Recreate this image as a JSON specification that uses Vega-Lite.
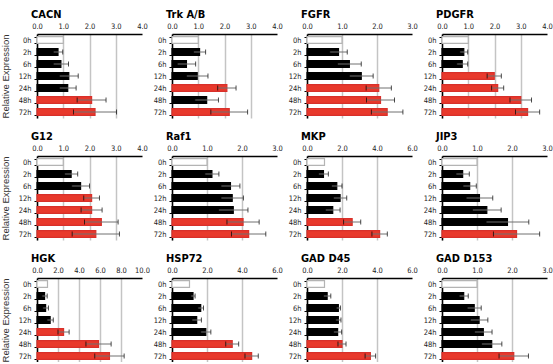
{
  "$schema": "https://vega.github.io/schema/vega-lite/v6.json",
  "padding": {"left": 0, "top": 9, "right": 0, "bottom": 0},
  "data": {"values": [
    {"gene":"CACN","time":"0h","value":1.0,"group":"ctrl"},
    {"gene":"CACN","time":"2h","value":0.80,"lo":0.62,"hi":0.98,"group":"ns"},
    {"gene":"CACN","time":"6h","value":0.91,"lo":0.62,"hi":1.20,"group":"ns"},
    {"gene":"CACN","time":"12h","value":1.21,"lo":0.85,"hi":1.57,"group":"ns"},
    {"gene":"CACN","time":"24h","value":1.17,"lo":0.85,"hi":1.49,"group":"ns"},
    {"gene":"CACN","time":"48h","value":2.08,"lo":1.53,"hi":2.63,"group":"up"},
    {"gene":"CACN","time":"72h","value":2.21,"lo":1.39,"hi":3.03,"group":"up"},
    {"gene":"Trk A/B","time":"0h","value":1.0,"group":"ctrl"},
    {"gene":"Trk A/B","time":"2h","value":1.05,"lo":0.82,"hi":1.28,"group":"ns"},
    {"gene":"Trk A/B","time":"6h","value":0.55,"lo":0.20,"hi":0.90,"group":"ns"},
    {"gene":"Trk A/B","time":"12h","value":0.96,"lo":0.55,"hi":1.37,"group":"ns"},
    {"gene":"Trk A/B","time":"24h","value":2.09,"lo":1.74,"hi":2.44,"group":"up"},
    {"gene":"Trk A/B","time":"48h","value":1.32,"lo":0.87,"hi":1.77,"group":"ns"},
    {"gene":"Trk A/B","time":"72h","value":2.18,"lo":1.48,"hi":2.88,"group":"up"},
    {"gene":"FGFR","time":"0h","value":1.0,"group":"ctrl"},
    {"gene":"FGFR","time":"2h","value":0.90,"lo":0.65,"hi":1.15,"group":"ns"},
    {"gene":"FGFR","time":"6h","value":1.21,"lo":0.87,"hi":1.55,"group":"ns"},
    {"gene":"FGFR","time":"12h","value":1.55,"lo":1.21,"hi":1.89,"group":"ns"},
    {"gene":"FGFR","time":"24h","value":2.05,"lo":1.69,"hi":2.41,"group":"up"},
    {"gene":"FGFR","time":"48h","value":2.10,"lo":1.70,"hi":2.50,"group":"up"},
    {"gene":"FGFR","time":"72h","value":2.29,"lo":1.84,"hi":2.74,"group":"up"},
    {"gene":"PDGFR","time":"0h","value":1.0,"group":"ctrl"},
    {"gene":"PDGFR","time":"2h","value":0.83,"lo":0.68,"hi":0.98,"group":"ns"},
    {"gene":"PDGFR","time":"6h","value":0.77,"lo":0.56,"hi":0.98,"group":"ns"},
    {"gene":"PDGFR","time":"12h","value":1.99,"lo":1.72,"hi":2.26,"group":"up"},
    {"gene":"PDGFR","time":"24h","value":2.12,"lo":1.89,"hi":2.35,"group":"up"},
    {"gene":"PDGFR","time":"48h","value":3.00,"lo":2.59,"hi":3.41,"group":"up"},
    {"gene":"PDGFR","time":"72h","value":3.26,"lo":2.80,"hi":3.72,"group":"up"},
    {"gene":"G12","time":"0h","value":1.0,"group":"ctrl"},
    {"gene":"G12","time":"2h","value":1.30,"lo":1.05,"hi":1.55,"group":"ns"},
    {"gene":"G12","time":"6h","value":1.66,"lo":1.32,"hi":2.00,"group":"ns"},
    {"gene":"G12","time":"12h","value":2.08,"lo":1.78,"hi":2.38,"group":"up"},
    {"gene":"G12","time":"24h","value":2.08,"lo":1.68,"hi":2.48,"group":"up"},
    {"gene":"G12","time":"48h","value":2.45,"lo":1.81,"hi":3.09,"group":"up"},
    {"gene":"G12","time":"72h","value":2.24,"lo":1.34,"hi":3.14,"group":"up"},
    {"gene":"Raf1","time":"0h","value":1.0,"group":"ctrl"},
    {"gene":"Raf1","time":"2h","value":1.14,"lo":0.94,"hi":1.34,"group":"ns"},
    {"gene":"Raf1","time":"6h","value":1.67,"lo":1.40,"hi":1.94,"group":"ns"},
    {"gene":"Raf1","time":"12h","value":1.72,"lo":1.40,"hi":2.04,"group":"ns"},
    {"gene":"Raf1","time":"24h","value":1.75,"lo":1.33,"hi":2.17,"group":"ns"},
    {"gene":"Raf1","time":"48h","value":2.03,"lo":1.57,"hi":2.49,"group":"up"},
    {"gene":"Raf1","time":"72h","value":2.19,"lo":1.70,"hi":2.68,"group":"up"},
    {"gene":"MKP","time":"0h","value":1.0,"group":"ctrl"},
    {"gene":"MKP","time":"2h","value":0.94,"lo":0.66,"hi":1.22,"group":"ns"},
    {"gene":"MKP","time":"6h","value":1.70,"lo":1.40,"hi":2.00,"group":"ns"},
    {"gene":"MKP","time":"12h","value":1.89,"lo":1.51,"hi":2.27,"group":"ns"},
    {"gene":"MKP","time":"24h","value":1.47,"lo":1.05,"hi":1.89,"group":"ns"},
    {"gene":"MKP","time":"48h","value":2.58,"lo":2.09,"hi":3.07,"group":"up"},
    {"gene":"MKP","time":"72h","value":4.15,"lo":3.71,"hi":4.59,"group":"up"},
    {"gene":"JIP3","time":"0h","value":1.0,"group":"ctrl"},
    {"gene":"JIP3","time":"2h","value":0.59,"lo":0.40,"hi":0.78,"group":"ns"},
    {"gene":"JIP3","time":"6h","value":0.79,"lo":0.60,"hi":0.98,"group":"ns"},
    {"gene":"JIP3","time":"12h","value":1.07,"lo":0.69,"hi":1.45,"group":"ns"},
    {"gene":"JIP3","time":"24h","value":1.28,"lo":0.87,"hi":1.69,"group":"ns"},
    {"gene":"JIP3","time":"48h","value":1.87,"lo":1.26,"hi":2.48,"group":"ns"},
    {"gene":"JIP3","time":"72h","value":2.13,"lo":1.47,"hi":2.79,"group":"up"},
    {"gene":"HGK","time":"0h","value":1.0,"group":"ctrl"},
    {"gene":"HGK","time":"2h","value":0.72,"lo":0.47,"hi":0.97,"group":"ns"},
    {"gene":"HGK","time":"6h","value":0.82,"lo":0.55,"hi":1.09,"group":"ns"},
    {"gene":"HGK","time":"12h","value":1.25,"lo":0.95,"hi":1.55,"group":"ns"},
    {"gene":"HGK","time":"24h","value":2.53,"lo":2.00,"hi":3.06,"group":"up"},
    {"gene":"HGK","time":"48h","value":5.86,"lo":4.66,"hi":7.06,"group":"up"},
    {"gene":"HGK","time":"72h","value":6.90,"lo":5.50,"hi":8.30,"group":"up"},
    {"gene":"HSP72","time":"0h","value":1.0,"group":"ctrl"},
    {"gene":"HSP72","time":"2h","value":1.20,"lo":1.08,"hi":1.32,"group":"ns"},
    {"gene":"HSP72","time":"6h","value":1.64,"lo":1.48,"hi":1.80,"group":"ns"},
    {"gene":"HSP72","time":"12h","value":1.41,"lo":1.14,"hi":1.68,"group":"ns"},
    {"gene":"HSP72","time":"24h","value":1.93,"lo":1.64,"hi":2.22,"group":"ns"},
    {"gene":"HSP72","time":"48h","value":3.44,"lo":3.07,"hi":3.81,"group":"up"},
    {"gene":"HSP72","time":"72h","value":4.55,"lo":4.17,"hi":4.93,"group":"up"},
    {"gene":"GAD D45","time":"0h","value":1.0,"group":"ctrl"},
    {"gene":"GAD D45","time":"2h","value":1.15,"lo":0.94,"hi":1.36,"group":"ns"},
    {"gene":"GAD D45","time":"6h","value":1.79,"lo":1.67,"hi":1.91,"group":"ns"},
    {"gene":"GAD D45","time":"12h","value":1.79,"lo":1.64,"hi":1.94,"group":"ns"},
    {"gene":"GAD D45","time":"24h","value":1.75,"lo":1.52,"hi":1.98,"group":"ns"},
    {"gene":"GAD D45","time":"48h","value":2.00,"lo":1.77,"hi":2.23,"group":"up"},
    {"gene":"GAD D45","time":"72h","value":3.62,"lo":3.32,"hi":3.92,"group":"up"},
    {"gene":"GAD D153","time":"0h","value":1.0,"group":"ctrl"},
    {"gene":"GAD D153","time":"2h","value":0.62,"lo":0.49,"hi":0.75,"group":"ns"},
    {"gene":"GAD D153","time":"6h","value":0.92,"lo":0.72,"hi":1.12,"group":"ns"},
    {"gene":"GAD D153","time":"12h","value":1.06,"lo":0.81,"hi":1.31,"group":"ns"},
    {"gene":"GAD D153","time":"24h","value":1.18,"lo":0.93,"hi":1.43,"group":"ns"},
    {"gene":"GAD D153","time":"48h","value":1.42,"lo":1.13,"hi":1.71,"group":"ns"},
    {"gene":"GAD D153","time":"72h","value":2.05,"lo":1.63,"hi":2.47,"group":"up"}
  ]},
  "columns": 4,
  "spacing": {"row": 38, "column": 30},
  "bounds": "flush",
  "resolve": {"scale": {"x": "independent", "y": "independent"}},
  "concat": [
    {"title": "CACN", "width": 105, "height": 84,
     "transform": [{"filter": "datum.gene == 'CACN'"}],
     "encoding": {"y": {"field": "time", "type": "ordinal", "sort": ["0h","2h","6h","12h","24h","48h","72h"], "scale": {"paddingInner": 0.45, "paddingOuter": 0.225}, "axis": {"title": "Relative Expression"}}},
     "layer": [
       {"mark": {"type": "bar", "strokeWidth": 1.2}, "encoding": {"x": {"field": "value", "type": "quantitative", "scale": {"domain": [0, 4]}, "axis": {"orient": "top", "title": null, "format": ".1f", "values": [0,1,2,3,4], "gridOpacity": {"condition": {"test": "datum.value >= 4", "value": 0}, "value": 1}}}, "color": {"field": "group", "type": "nominal", "scale": {"domain": ["ctrl","ns","up"], "range": ["#ffffff","#000000","#e8392c"]}, "legend": null}, "stroke": {"field": "group", "type": "nominal", "scale": {"domain": ["ctrl","ns","up"], "range": ["#b4b4b4","#000000","#d8302a"]}, "legend": null}}},
       {"transform": [{"filter": "isValid(datum.hi)"}], "mark": {"type": "rule", "color": "#707070", "strokeWidth": 1}, "encoding": {"x": {"field": "lo", "type": "quantitative", "axis": {"orient": "top", "title": null, "format": ".1f", "values": [0,1,2,3,4], "gridOpacity": {"condition": {"test": "datum.value >= 4", "value": 0}, "value": 1}}}, "x2": {"field": "hi"}}},
       {"transform": [{"filter": "isValid(datum.hi)"}], "mark": {"type": "tick", "color": "#000", "size": 5, "thickness": 1}, "encoding": {"x": {"field": "lo", "type": "quantitative", "axis": {"orient": "top", "title": null, "format": ".1f", "values": [0,1,2,3,4], "gridOpacity": {"condition": {"test": "datum.value >= 4", "value": 0}, "value": 1}}}}},
       {"transform": [{"filter": "isValid(datum.hi)"}], "mark": {"type": "tick", "color": "#000", "size": 5, "thickness": 1}, "encoding": {"x": {"field": "hi", "type": "quantitative", "axis": {"orient": "top", "title": null, "format": ".1f", "values": [0,1,2,3,4], "gridOpacity": {"condition": {"test": "datum.value >= 4", "value": 0}, "value": 1}}}}}
     ]},
    {"title": "Trk A/B", "width": 105, "height": 84,
     "transform": [{"filter": "datum.gene == 'Trk A/B'"}],
     "encoding": {"y": {"field": "time", "type": "ordinal", "sort": ["0h","2h","6h","12h","24h","48h","72h"], "scale": {"paddingInner": 0.45, "paddingOuter": 0.225}, "axis": {"title": null}}},
     "layer": [
       {"mark": {"type": "bar", "strokeWidth": 1.2}, "encoding": {"x": {"field": "value", "type": "quantitative", "scale": {"domain": [0, 4]}, "axis": {"orient": "top", "title": null, "format": ".1f", "values": [0,1,2,3,4], "gridOpacity": {"condition": {"test": "datum.value >= 4", "value": 0}, "value": 1}}}, "color": {"field": "group", "type": "nominal", "scale": {"domain": ["ctrl","ns","up"], "range": ["#ffffff","#000000","#e8392c"]}, "legend": null}, "stroke": {"field": "group", "type": "nominal", "scale": {"domain": ["ctrl","ns","up"], "range": ["#b4b4b4","#000000","#d8302a"]}, "legend": null}}},
       {"transform": [{"filter": "isValid(datum.hi)"}], "mark": {"type": "rule", "color": "#707070", "strokeWidth": 1}, "encoding": {"x": {"field": "lo", "type": "quantitative", "axis": {"orient": "top", "title": null, "format": ".1f", "values": [0,1,2,3,4], "gridOpacity": {"condition": {"test": "datum.value >= 4", "value": 0}, "value": 1}}}, "x2": {"field": "hi"}}},
       {"transform": [{"filter": "isValid(datum.hi)"}], "mark": {"type": "tick", "color": "#000", "size": 5, "thickness": 1}, "encoding": {"x": {"field": "lo", "type": "quantitative", "axis": {"orient": "top", "title": null, "format": ".1f", "values": [0,1,2,3,4], "gridOpacity": {"condition": {"test": "datum.value >= 4", "value": 0}, "value": 1}}}}},
       {"transform": [{"filter": "isValid(datum.hi)"}], "mark": {"type": "tick", "color": "#000", "size": 5, "thickness": 1}, "encoding": {"x": {"field": "hi", "type": "quantitative", "axis": {"orient": "top", "title": null, "format": ".1f", "values": [0,1,2,3,4], "gridOpacity": {"condition": {"test": "datum.value >= 4", "value": 0}, "value": 1}}}}}
     ]},
    {"title": "FGFR", "width": 105, "height": 84,
     "transform": [{"filter": "datum.gene == 'FGFR'"}],
     "encoding": {"y": {"field": "time", "type": "ordinal", "sort": ["0h","2h","6h","12h","24h","48h","72h"], "scale": {"paddingInner": 0.45, "paddingOuter": 0.225}, "axis": {"title": null}}},
     "layer": [
       {"mark": {"type": "bar", "strokeWidth": 1.2}, "encoding": {"x": {"field": "value", "type": "quantitative", "scale": {"domain": [0, 3]}, "axis": {"orient": "top", "title": null, "format": ".1f", "values": [0,1,2,3], "gridOpacity": {"condition": {"test": "datum.value >= 3", "value": 0}, "value": 1}}}, "color": {"field": "group", "type": "nominal", "scale": {"domain": ["ctrl","ns","up"], "range": ["#ffffff","#000000","#e8392c"]}, "legend": null}, "stroke": {"field": "group", "type": "nominal", "scale": {"domain": ["ctrl","ns","up"], "range": ["#b4b4b4","#000000","#d8302a"]}, "legend": null}}},
       {"transform": [{"filter": "isValid(datum.hi)"}], "mark": {"type": "rule", "color": "#707070", "strokeWidth": 1}, "encoding": {"x": {"field": "lo", "type": "quantitative", "axis": {"orient": "top", "title": null, "format": ".1f", "values": [0,1,2,3], "gridOpacity": {"condition": {"test": "datum.value >= 3", "value": 0}, "value": 1}}}, "x2": {"field": "hi"}}},
       {"transform": [{"filter": "isValid(datum.hi)"}], "mark": {"type": "tick", "color": "#000", "size": 5, "thickness": 1}, "encoding": {"x": {"field": "lo", "type": "quantitative", "axis": {"orient": "top", "title": null, "format": ".1f", "values": [0,1,2,3], "gridOpacity": {"condition": {"test": "datum.value >= 3", "value": 0}, "value": 1}}}}},
       {"transform": [{"filter": "isValid(datum.hi)"}], "mark": {"type": "tick", "color": "#000", "size": 5, "thickness": 1}, "encoding": {"x": {"field": "hi", "type": "quantitative", "axis": {"orient": "top", "title": null, "format": ".1f", "values": [0,1,2,3], "gridOpacity": {"condition": {"test": "datum.value >= 3", "value": 0}, "value": 1}}}}}
     ]},
    {"title": "PDGFR", "width": 105, "height": 84,
     "transform": [{"filter": "datum.gene == 'PDGFR'"}],
     "encoding": {"y": {"field": "time", "type": "ordinal", "sort": ["0h","2h","6h","12h","24h","48h","72h"], "scale": {"paddingInner": 0.45, "paddingOuter": 0.225}, "axis": {"title": null}}},
     "layer": [
       {"mark": {"type": "bar", "strokeWidth": 1.2}, "encoding": {"x": {"field": "value", "type": "quantitative", "scale": {"domain": [0, 4]}, "axis": {"orient": "top", "title": null, "format": ".1f", "values": [0,1,2,3,4], "gridOpacity": {"condition": {"test": "datum.value >= 4", "value": 0}, "value": 1}}}, "color": {"field": "group", "type": "nominal", "scale": {"domain": ["ctrl","ns","up"], "range": ["#ffffff","#000000","#e8392c"]}, "legend": null}, "stroke": {"field": "group", "type": "nominal", "scale": {"domain": ["ctrl","ns","up"], "range": ["#b4b4b4","#000000","#d8302a"]}, "legend": null}}},
       {"transform": [{"filter": "isValid(datum.hi)"}], "mark": {"type": "rule", "color": "#707070", "strokeWidth": 1}, "encoding": {"x": {"field": "lo", "type": "quantitative", "axis": {"orient": "top", "title": null, "format": ".1f", "values": [0,1,2,3,4], "gridOpacity": {"condition": {"test": "datum.value >= 4", "value": 0}, "value": 1}}}, "x2": {"field": "hi"}}},
       {"transform": [{"filter": "isValid(datum.hi)"}], "mark": {"type": "tick", "color": "#000", "size": 5, "thickness": 1}, "encoding": {"x": {"field": "lo", "type": "quantitative", "axis": {"orient": "top", "title": null, "format": ".1f", "values": [0,1,2,3,4], "gridOpacity": {"condition": {"test": "datum.value >= 4", "value": 0}, "value": 1}}}}},
       {"transform": [{"filter": "isValid(datum.hi)"}], "mark": {"type": "tick", "color": "#000", "size": 5, "thickness": 1}, "encoding": {"x": {"field": "hi", "type": "quantitative", "axis": {"orient": "top", "title": null, "format": ".1f", "values": [0,1,2,3,4], "gridOpacity": {"condition": {"test": "datum.value >= 4", "value": 0}, "value": 1}}}}}
     ]},
    {"title": "G12", "width": 105, "height": 84,
     "transform": [{"filter": "datum.gene == 'G12'"}],
     "encoding": {"y": {"field": "time", "type": "ordinal", "sort": ["0h","2h","6h","12h","24h","48h","72h"], "scale": {"paddingInner": 0.45, "paddingOuter": 0.225}, "axis": {"title": "Relative Expression"}}},
     "layer": [
       {"mark": {"type": "bar", "strokeWidth": 1.2}, "encoding": {"x": {"field": "value", "type": "quantitative", "scale": {"domain": [0, 4]}, "axis": {"orient": "top", "title": null, "format": ".1f", "values": [0,1,2,3,4], "gridOpacity": {"condition": {"test": "datum.value >= 4", "value": 0}, "value": 1}}}, "color": {"field": "group", "type": "nominal", "scale": {"domain": ["ctrl","ns","up"], "range": ["#ffffff","#000000","#e8392c"]}, "legend": null}, "stroke": {"field": "group", "type": "nominal", "scale": {"domain": ["ctrl","ns","up"], "range": ["#b4b4b4","#000000","#d8302a"]}, "legend": null}}},
       {"transform": [{"filter": "isValid(datum.hi)"}], "mark": {"type": "rule", "color": "#707070", "strokeWidth": 1}, "encoding": {"x": {"field": "lo", "type": "quantitative", "axis": {"orient": "top", "title": null, "format": ".1f", "values": [0,1,2,3,4], "gridOpacity": {"condition": {"test": "datum.value >= 4", "value": 0}, "value": 1}}}, "x2": {"field": "hi"}}},
       {"transform": [{"filter": "isValid(datum.hi)"}], "mark": {"type": "tick", "color": "#000", "size": 5, "thickness": 1}, "encoding": {"x": {"field": "lo", "type": "quantitative", "axis": {"orient": "top", "title": null, "format": ".1f", "values": [0,1,2,3,4], "gridOpacity": {"condition": {"test": "datum.value >= 4", "value": 0}, "value": 1}}}}},
       {"transform": [{"filter": "isValid(datum.hi)"}], "mark": {"type": "tick", "color": "#000", "size": 5, "thickness": 1}, "encoding": {"x": {"field": "hi", "type": "quantitative", "axis": {"orient": "top", "title": null, "format": ".1f", "values": [0,1,2,3,4], "gridOpacity": {"condition": {"test": "datum.value >= 4", "value": 0}, "value": 1}}}}}
     ]},
    {"title": "Raf1", "width": 105, "height": 84,
     "transform": [{"filter": "datum.gene == 'Raf1'"}],
     "encoding": {"y": {"field": "time", "type": "ordinal", "sort": ["0h","2h","6h","12h","24h","48h","72h"], "scale": {"paddingInner": 0.45, "paddingOuter": 0.225}, "axis": {"title": null}}},
     "layer": [
       {"mark": {"type": "bar", "strokeWidth": 1.2}, "encoding": {"x": {"field": "value", "type": "quantitative", "scale": {"domain": [0, 3]}, "axis": {"orient": "top", "title": null, "format": ".1f", "values": [0,1,2,3], "gridOpacity": {"condition": {"test": "datum.value >= 3", "value": 0}, "value": 1}}}, "color": {"field": "group", "type": "nominal", "scale": {"domain": ["ctrl","ns","up"], "range": ["#ffffff","#000000","#e8392c"]}, "legend": null}, "stroke": {"field": "group", "type": "nominal", "scale": {"domain": ["ctrl","ns","up"], "range": ["#b4b4b4","#000000","#d8302a"]}, "legend": null}}},
       {"transform": [{"filter": "isValid(datum.hi)"}], "mark": {"type": "rule", "color": "#707070", "strokeWidth": 1}, "encoding": {"x": {"field": "lo", "type": "quantitative", "axis": {"orient": "top", "title": null, "format": ".1f", "values": [0,1,2,3], "gridOpacity": {"condition": {"test": "datum.value >= 3", "value": 0}, "value": 1}}}, "x2": {"field": "hi"}}},
       {"transform": [{"filter": "isValid(datum.hi)"}], "mark": {"type": "tick", "color": "#000", "size": 5, "thickness": 1}, "encoding": {"x": {"field": "lo", "type": "quantitative", "axis": {"orient": "top", "title": null, "format": ".1f", "values": [0,1,2,3], "gridOpacity": {"condition": {"test": "datum.value >= 3", "value": 0}, "value": 1}}}}},
       {"transform": [{"filter": "isValid(datum.hi)"}], "mark": {"type": "tick", "color": "#000", "size": 5, "thickness": 1}, "encoding": {"x": {"field": "hi", "type": "quantitative", "axis": {"orient": "top", "title": null, "format": ".1f", "values": [0,1,2,3], "gridOpacity": {"condition": {"test": "datum.value >= 3", "value": 0}, "value": 1}}}}}
     ]},
    {"title": "MKP", "width": 105, "height": 84,
     "transform": [{"filter": "datum.gene == 'MKP'"}],
     "encoding": {"y": {"field": "time", "type": "ordinal", "sort": ["0h","2h","6h","12h","24h","48h","72h"], "scale": {"paddingInner": 0.45, "paddingOuter": 0.225}, "axis": {"title": null}}},
     "layer": [
       {"mark": {"type": "bar", "strokeWidth": 1.2}, "encoding": {"x": {"field": "value", "type": "quantitative", "scale": {"domain": [0, 6]}, "axis": {"orient": "top", "title": null, "format": ".1f", "values": [0,2,4,6], "gridOpacity": {"condition": {"test": "datum.value >= 6", "value": 0}, "value": 1}}}, "color": {"field": "group", "type": "nominal", "scale": {"domain": ["ctrl","ns","up"], "range": ["#ffffff","#000000","#e8392c"]}, "legend": null}, "stroke": {"field": "group", "type": "nominal", "scale": {"domain": ["ctrl","ns","up"], "range": ["#b4b4b4","#000000","#d8302a"]}, "legend": null}}},
       {"transform": [{"filter": "isValid(datum.hi)"}], "mark": {"type": "rule", "color": "#707070", "strokeWidth": 1}, "encoding": {"x": {"field": "lo", "type": "quantitative", "axis": {"orient": "top", "title": null, "format": ".1f", "values": [0,2,4,6], "gridOpacity": {"condition": {"test": "datum.value >= 6", "value": 0}, "value": 1}}}, "x2": {"field": "hi"}}},
       {"transform": [{"filter": "isValid(datum.hi)"}], "mark": {"type": "tick", "color": "#000", "size": 5, "thickness": 1}, "encoding": {"x": {"field": "lo", "type": "quantitative", "axis": {"orient": "top", "title": null, "format": ".1f", "values": [0,2,4,6], "gridOpacity": {"condition": {"test": "datum.value >= 6", "value": 0}, "value": 1}}}}},
       {"transform": [{"filter": "isValid(datum.hi)"}], "mark": {"type": "tick", "color": "#000", "size": 5, "thickness": 1}, "encoding": {"x": {"field": "hi", "type": "quantitative", "axis": {"orient": "top", "title": null, "format": ".1f", "values": [0,2,4,6], "gridOpacity": {"condition": {"test": "datum.value >= 6", "value": 0}, "value": 1}}}}}
     ]},
    {"title": "JIP3", "width": 105, "height": 84,
     "transform": [{"filter": "datum.gene == 'JIP3'"}],
     "encoding": {"y": {"field": "time", "type": "ordinal", "sort": ["0h","2h","6h","12h","24h","48h","72h"], "scale": {"paddingInner": 0.45, "paddingOuter": 0.225}, "axis": {"title": null}}},
     "layer": [
       {"mark": {"type": "bar", "strokeWidth": 1.2}, "encoding": {"x": {"field": "value", "type": "quantitative", "scale": {"domain": [0, 3]}, "axis": {"orient": "top", "title": null, "format": ".1f", "values": [0,1,2,3], "gridOpacity": {"condition": {"test": "datum.value >= 3", "value": 0}, "value": 1}}}, "color": {"field": "group", "type": "nominal", "scale": {"domain": ["ctrl","ns","up"], "range": ["#ffffff","#000000","#e8392c"]}, "legend": null}, "stroke": {"field": "group", "type": "nominal", "scale": {"domain": ["ctrl","ns","up"], "range": ["#b4b4b4","#000000","#d8302a"]}, "legend": null}}},
       {"transform": [{"filter": "isValid(datum.hi)"}], "mark": {"type": "rule", "color": "#707070", "strokeWidth": 1}, "encoding": {"x": {"field": "lo", "type": "quantitative", "axis": {"orient": "top", "title": null, "format": ".1f", "values": [0,1,2,3], "gridOpacity": {"condition": {"test": "datum.value >= 3", "value": 0}, "value": 1}}}, "x2": {"field": "hi"}}},
       {"transform": [{"filter": "isValid(datum.hi)"}], "mark": {"type": "tick", "color": "#000", "size": 5, "thickness": 1}, "encoding": {"x": {"field": "lo", "type": "quantitative", "axis": {"orient": "top", "title": null, "format": ".1f", "values": [0,1,2,3], "gridOpacity": {"condition": {"test": "datum.value >= 3", "value": 0}, "value": 1}}}}},
       {"transform": [{"filter": "isValid(datum.hi)"}], "mark": {"type": "tick", "color": "#000", "size": 5, "thickness": 1}, "encoding": {"x": {"field": "hi", "type": "quantitative", "axis": {"orient": "top", "title": null, "format": ".1f", "values": [0,1,2,3], "gridOpacity": {"condition": {"test": "datum.value >= 3", "value": 0}, "value": 1}}}}}
     ]},
    {"title": "HGK", "width": 105, "height": 84,
     "transform": [{"filter": "datum.gene == 'HGK'"}],
     "encoding": {"y": {"field": "time", "type": "ordinal", "sort": ["0h","2h","6h","12h","24h","48h","72h"], "scale": {"paddingInner": 0.45, "paddingOuter": 0.225}, "axis": {"title": "Relative Expression"}}},
     "layer": [
       {"mark": {"type": "bar", "strokeWidth": 1.2}, "encoding": {"x": {"field": "value", "type": "quantitative", "scale": {"domain": [0, 10]}, "axis": {"orient": "top", "title": null, "format": ".1f", "values": [0,2,4,6,8,10], "gridOpacity": {"condition": {"test": "datum.value >= 10", "value": 0}, "value": 1}}}, "color": {"field": "group", "type": "nominal", "scale": {"domain": ["ctrl","ns","up"], "range": ["#ffffff","#000000","#e8392c"]}, "legend": null}, "stroke": {"field": "group", "type": "nominal", "scale": {"domain": ["ctrl","ns","up"], "range": ["#b4b4b4","#000000","#d8302a"]}, "legend": null}}},
       {"transform": [{"filter": "isValid(datum.hi)"}], "mark": {"type": "rule", "color": "#707070", "strokeWidth": 1}, "encoding": {"x": {"field": "lo", "type": "quantitative", "axis": {"orient": "top", "title": null, "format": ".1f", "values": [0,2,4,6,8,10], "gridOpacity": {"condition": {"test": "datum.value >= 10", "value": 0}, "value": 1}}}, "x2": {"field": "hi"}}},
       {"transform": [{"filter": "isValid(datum.hi)"}], "mark": {"type": "tick", "color": "#000", "size": 5, "thickness": 1}, "encoding": {"x": {"field": "lo", "type": "quantitative", "axis": {"orient": "top", "title": null, "format": ".1f", "values": [0,2,4,6,8,10], "gridOpacity": {"condition": {"test": "datum.value >= 10", "value": 0}, "value": 1}}}}},
       {"transform": [{"filter": "isValid(datum.hi)"}], "mark": {"type": "tick", "color": "#000", "size": 5, "thickness": 1}, "encoding": {"x": {"field": "hi", "type": "quantitative", "axis": {"orient": "top", "title": null, "format": ".1f", "values": [0,2,4,6,8,10], "gridOpacity": {"condition": {"test": "datum.value >= 10", "value": 0}, "value": 1}}}}}
     ]},
    {"title": "HSP72", "width": 105, "height": 84,
     "transform": [{"filter": "datum.gene == 'HSP72'"}],
     "encoding": {"y": {"field": "time", "type": "ordinal", "sort": ["0h","2h","6h","12h","24h","48h","72h"], "scale": {"paddingInner": 0.45, "paddingOuter": 0.225}, "axis": {"title": null}}},
     "layer": [
       {"mark": {"type": "bar", "strokeWidth": 1.2}, "encoding": {"x": {"field": "value", "type": "quantitative", "scale": {"domain": [0, 6]}, "axis": {"orient": "top", "title": null, "format": ".1f", "values": [0,2,4,6], "gridOpacity": {"condition": {"test": "datum.value >= 6", "value": 0}, "value": 1}}}, "color": {"field": "group", "type": "nominal", "scale": {"domain": ["ctrl","ns","up"], "range": ["#ffffff","#000000","#e8392c"]}, "legend": null}, "stroke": {"field": "group", "type": "nominal", "scale": {"domain": ["ctrl","ns","up"], "range": ["#b4b4b4","#000000","#d8302a"]}, "legend": null}}},
       {"transform": [{"filter": "isValid(datum.hi)"}], "mark": {"type": "rule", "color": "#707070", "strokeWidth": 1}, "encoding": {"x": {"field": "lo", "type": "quantitative", "axis": {"orient": "top", "title": null, "format": ".1f", "values": [0,2,4,6], "gridOpacity": {"condition": {"test": "datum.value >= 6", "value": 0}, "value": 1}}}, "x2": {"field": "hi"}}},
       {"transform": [{"filter": "isValid(datum.hi)"}], "mark": {"type": "tick", "color": "#000", "size": 5, "thickness": 1}, "encoding": {"x": {"field": "lo", "type": "quantitative", "axis": {"orient": "top", "title": null, "format": ".1f", "values": [0,2,4,6], "gridOpacity": {"condition": {"test": "datum.value >= 6", "value": 0}, "value": 1}}}}},
       {"transform": [{"filter": "isValid(datum.hi)"}], "mark": {"type": "tick", "color": "#000", "size": 5, "thickness": 1}, "encoding": {"x": {"field": "hi", "type": "quantitative", "axis": {"orient": "top", "title": null, "format": ".1f", "values": [0,2,4,6], "gridOpacity": {"condition": {"test": "datum.value >= 6", "value": 0}, "value": 1}}}}}
     ]},
    {"title": "GAD D45", "width": 105, "height": 84,
     "transform": [{"filter": "datum.gene == 'GAD D45'"}],
     "encoding": {"y": {"field": "time", "type": "ordinal", "sort": ["0h","2h","6h","12h","24h","48h","72h"], "scale": {"paddingInner": 0.45, "paddingOuter": 0.225}, "axis": {"title": null}}},
     "layer": [
       {"mark": {"type": "bar", "strokeWidth": 1.2}, "encoding": {"x": {"field": "value", "type": "quantitative", "scale": {"domain": [0, 6]}, "axis": {"orient": "top", "title": null, "format": ".1f", "values": [0,2,4,6], "gridOpacity": {"condition": {"test": "datum.value >= 6", "value": 0}, "value": 1}}}, "color": {"field": "group", "type": "nominal", "scale": {"domain": ["ctrl","ns","up"], "range": ["#ffffff","#000000","#e8392c"]}, "legend": null}, "stroke": {"field": "group", "type": "nominal", "scale": {"domain": ["ctrl","ns","up"], "range": ["#b4b4b4","#000000","#d8302a"]}, "legend": null}}},
       {"transform": [{"filter": "isValid(datum.hi)"}], "mark": {"type": "rule", "color": "#707070", "strokeWidth": 1}, "encoding": {"x": {"field": "lo", "type": "quantitative", "axis": {"orient": "top", "title": null, "format": ".1f", "values": [0,2,4,6], "gridOpacity": {"condition": {"test": "datum.value >= 6", "value": 0}, "value": 1}}}, "x2": {"field": "hi"}}},
       {"transform": [{"filter": "isValid(datum.hi)"}], "mark": {"type": "tick", "color": "#000", "size": 5, "thickness": 1}, "encoding": {"x": {"field": "lo", "type": "quantitative", "axis": {"orient": "top", "title": null, "format": ".1f", "values": [0,2,4,6], "gridOpacity": {"condition": {"test": "datum.value >= 6", "value": 0}, "value": 1}}}}},
       {"transform": [{"filter": "isValid(datum.hi)"}], "mark": {"type": "tick", "color": "#000", "size": 5, "thickness": 1}, "encoding": {"x": {"field": "hi", "type": "quantitative", "axis": {"orient": "top", "title": null, "format": ".1f", "values": [0,2,4,6], "gridOpacity": {"condition": {"test": "datum.value >= 6", "value": 0}, "value": 1}}}}}
     ]},
    {"title": "GAD D153", "width": 105, "height": 84,
     "transform": [{"filter": "datum.gene == 'GAD D153'"}],
     "encoding": {"y": {"field": "time", "type": "ordinal", "sort": ["0h","2h","6h","12h","24h","48h","72h"], "scale": {"paddingInner": 0.45, "paddingOuter": 0.225}, "axis": {"title": null}}},
     "layer": [
       {"mark": {"type": "bar", "strokeWidth": 1.2}, "encoding": {"x": {"field": "value", "type": "quantitative", "scale": {"domain": [0, 3]}, "axis": {"orient": "top", "title": null, "format": ".1f", "values": [0,1,2,3], "gridOpacity": {"condition": {"test": "datum.value >= 3", "value": 0}, "value": 1}}}, "color": {"field": "group", "type": "nominal", "scale": {"domain": ["ctrl","ns","up"], "range": ["#ffffff","#000000","#e8392c"]}, "legend": null}, "stroke": {"field": "group", "type": "nominal", "scale": {"domain": ["ctrl","ns","up"], "range": ["#b4b4b4","#000000","#d8302a"]}, "legend": null}}},
       {"transform": [{"filter": "isValid(datum.hi)"}], "mark": {"type": "rule", "color": "#707070", "strokeWidth": 1}, "encoding": {"x": {"field": "lo", "type": "quantitative", "axis": {"orient": "top", "title": null, "format": ".1f", "values": [0,1,2,3], "gridOpacity": {"condition": {"test": "datum.value >= 3", "value": 0}, "value": 1}}}, "x2": {"field": "hi"}}},
       {"transform": [{"filter": "isValid(datum.hi)"}], "mark": {"type": "tick", "color": "#000", "size": 5, "thickness": 1}, "encoding": {"x": {"field": "lo", "type": "quantitative", "axis": {"orient": "top", "title": null, "format": ".1f", "values": [0,1,2,3], "gridOpacity": {"condition": {"test": "datum.value >= 3", "value": 0}, "value": 1}}}}},
       {"transform": [{"filter": "isValid(datum.hi)"}], "mark": {"type": "tick", "color": "#000", "size": 5, "thickness": 1}, "encoding": {"x": {"field": "hi", "type": "quantitative", "axis": {"orient": "top", "title": null, "format": ".1f", "values": [0,1,2,3], "gridOpacity": {"condition": {"test": "datum.value >= 3", "value": 0}, "value": 1}}}}}
     ]}
  ],
  "config": {
    "view": {"stroke": null},
    "font": "DejaVu Sans Condensed",
    "title": {"font": "DejaVu Sans Condensed", "fontSize": 11, "fontWeight": "bold", "anchor": "start", "frame": "group", "dx": -6, "offset": 2, "color": "#000"},
    "axisX": {"grid": true, "gridColor": "#c4c4c4", "gridWidth": 1.5, "domainColor": "#000", "domainWidth": 1.5, "ticks": false, "labelFont": "DejaVu Sans Condensed", "labelFontSize": 7.5, "labelColor": "#222", "labelPadding": 4, "labelFlush": false},
    "axisY": {"grid": false, "domainColor": "#000", "domainWidth": 1.5, "tickColor": "#000", "tickSize": 3, "tickWidth": 1, "tickBand": "extent", "labelFont": "DejaVu Sans Condensed", "labelFontSize": 7.5, "labelColor": "#222", "labelPadding": 3, "titleFont": "Liberation Sans", "titleFontSize": 9.5, "titleFontWeight": "normal", "titleColor": "#333", "titlePadding": 8}
  }
}
